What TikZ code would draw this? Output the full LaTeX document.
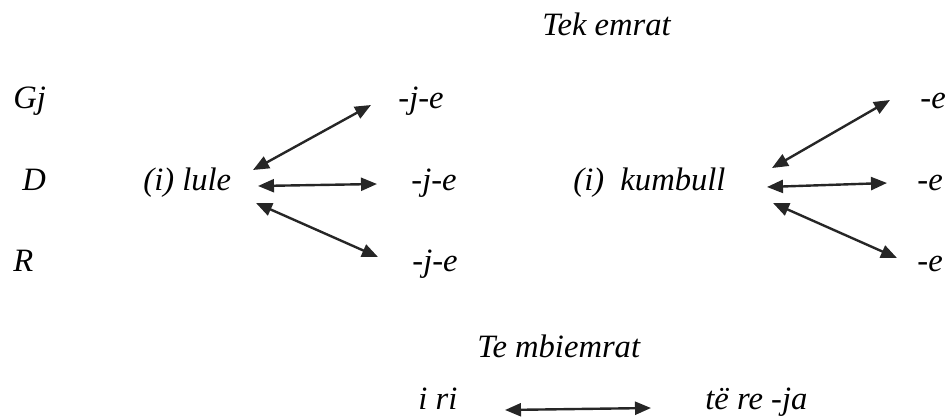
\documentclass[tikz,border=0pt]{standalone}
\usepackage{fontspec}
\setmainfont{Liberation Serif}[ItalicFont={Liberation Serif Italic}]
\usetikzlibrary{arrows.meta}

\begin{document}
\begin{tikzpicture}[
    x=0.5pt, y=-0.5pt,
    font=\rmfamily\fontsize{16.3}{19}\selectfont\itshape,
    >={Triangle[length=8pt, width=6.5pt]},
    word/.style={anchor=base west, inner sep=0pt},
    link/.style={<->, line width=1.2pt, draw=black!85}
]
\useasboundingbox (0,0) rectangle (950,418);

% Headings
\node[word] (tek) at (542,35) {Tek emrat};
\node[word] (mbi) at (477,357) {Te mbiemrat};

% Case labels
\node[word] (caseGj) at (13,108) {Gj};
\node[word] (caseD) at (22,190) {D};
\node[word] (caseR) at (13,271) {R};

% First noun
\node[word] (lule) at (143,190) {(i) lule};
\node[word] (lgj) at (398,108) {-j-e};
\node[word] (ld) at (411,190) {-j-e};
\node[word] (lr) at (412,271) {-j-e};

% Second noun
\node[word] (kumbull) at (573,190) {(i)~~kumbull};
\node[word] (kgj) at (920,108) {-e};
\node[word] (kd) at (917,190) {-e};
\node[word] (kr) at (917,271) {-e};

% Adjective
\node[word] (iri) at (418,409) {i ri};
\node[word] (tere) at (705,409) {të re -ja};

% Noun connections
\draw[link] ([shift={(110,-20)}]lule.base west) -- ([shift={(-27,-3)}]lgj.base west);
\draw[link] ([shift={(115,-4)}]lule.base west) -- ([shift={(-34,-6)}]ld.base west);
\draw[link] ([shift={(113,13)}]lule.base west) -- ([shift={(-34,-14)}]lr.base west);
\draw[link] ([shift={(199,-22)}]kumbull.base west) -- ([shift={(-30,-8)}]kgj.base west);
\draw[link] ([shift={(194,-3)}]kumbull.base west) -- ([shift={(-30,-7)}]kd.base west);
\draw[link] ([shift={(200,13)}]kumbull.base west) -- ([shift={(-20,-13)}]kr.base west);

% Adjective connection
\draw[link] ([shift={(87,1)}]iri.base west) -- ([shift={(-54,-1)}]tere.base west);

\end{tikzpicture}
\end{document}
